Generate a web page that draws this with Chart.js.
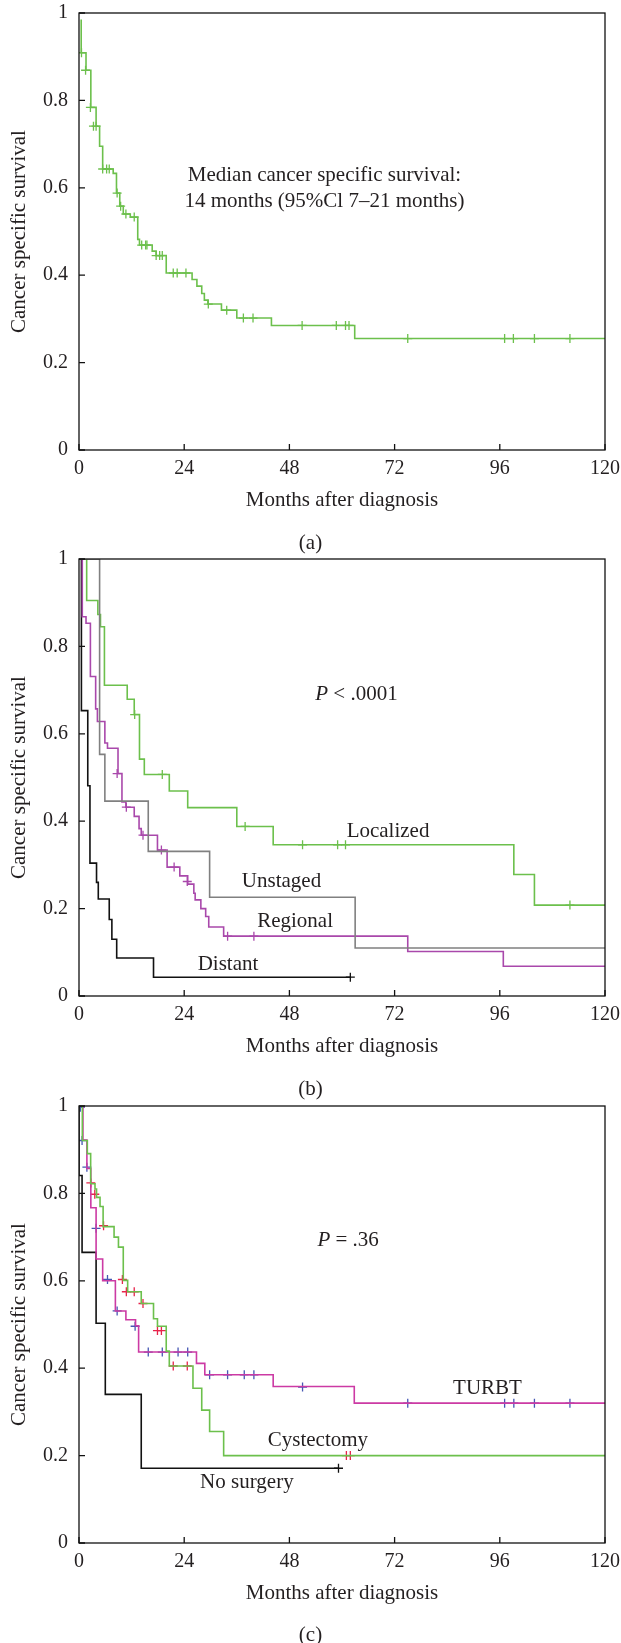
<!DOCTYPE html>
<html><head><meta charset="utf-8">
<script src="https://cdn.jsdelivr.net/npm/chart.js@4/dist/chart.umd.min.js"></script>
<style>
html,body{margin:0;padding:0;background:#fff;}
body{width:621px;height:1643px;position:relative;overflow:hidden;font-family:'Liberation Serif',serif;}
canvas{position:absolute;left:0;}
.cap{position:absolute;left:0;width:621px;text-align:center;font-size:21px;line-height:24px;color:#231f20;}
</style></head><body>
<canvas id="ca" width="621" height="547" style="top:0px"></canvas>
<canvas id="cb" width="621" height="547" style="top:546px"></canvas>
<canvas id="cc" width="621" height="547" style="top:1093px"></canvas>
<div class="cap" style="top:530px">(a)</div>
<div class="cap" style="top:1076px">(b)</div>
<div class="cap" style="top:1622px">(c)</div>
<script>
// ---------- axes ----------
const xTicks = [0, 24, 48, 72, 96, 120];
const xTickLabels = ['0', '24', '48', '72', '96', '120'];
const yTicks = [0, 0.2, 0.4, 0.6, 0.8, 1];
const yTickLabels = ['0', '0.2', '0.4', '0.6', '0.8', '1'];
const xTitle = 'Months after diagnosis';
const yTitle = 'Cancer specific survival';

// ---------- panel (a): all patients ----------
const aTime = [0.5,0.5,1.6,2.7,3.9,4.7,5.4,7.8,8.55,9.3,10.1,11.7,13.4,13.8,16.7,17.6,19.9,25.8,26.9,28.0,28.6,29.4,32.5,36.0,43.9,62.9,120];
const aSurv = [0.985,0.909,0.869,0.784,0.741,0.695,0.643,0.633,0.588,0.558,0.540,0.533,0.482,0.469,0.455,0.445,0.405,0.390,0.375,0.358,0.343,0.334,0.320,0.302,0.285,0.255,0.255];
const aCensT = [0.57,1.5,2.6,3.3,3.9,5.4,6.3,6.9,8.7,9.5,10.7,12.6,14.3,15.2,15.5,17.6,18.4,19.0,21.5,22.4,24.4,29.5,33.7,37.5,39.7,50.9,58.7,60.8,61.6,75.0,97.1,99.1,103.9,112.0];
const aCensS = [0.909,0.869,0.784,0.741,0.741,0.643,0.643,0.643,0.588,0.558,0.540,0.533,0.469,0.469,0.469,0.445,0.445,0.445,0.405,0.405,0.405,0.334,0.320,0.302,0.302,0.285,0.285,0.285,0.285,0.255,0.255,0.255,0.255,0.255];

// ---------- panel (b): by stage ----------
const bLocT = [0,1.75,4.3,4.9,5.8,11.0,12.6,13.8,14.9,20.6,24.8,36.0,44.3,99.2,103.9,120];
const bLocS = [1,0.905,0.873,0.845,0.711,0.679,0.644,0.542,0.507,0.469,0.431,0.388,0.346,0.278,0.208,0.208];
const bLocCensT = [12.7,19.0,37.9,51.0,59.0,60.8,112.0];
const bLocCensS = [0.644,0.507,0.388,0.346,0.346,0.346,0.208];
const bUnsT = [0,4.7,5.9,15.8,29.8,63.0,120];
const bUnsS = [1,0.553,0.446,0.331,0.226,0.110,0.110];
const bRegT = [0,0.75,1.6,2.6,3.8,4.2,5.9,6.5,8.9,9.8,10.7,12.6,13.7,14.2,17.9,20.1,23.0,24.8,26.2,26.5,27.8,28.9,29.6,33.0,75.0,96.8,120];
const bRegS = [1,0.868,0.853,0.731,0.657,0.628,0.579,0.567,0.509,0.444,0.432,0.411,0.383,0.368,0.334,0.295,0.275,0.256,0.235,0.22,0.2,0.182,0.158,0.137,0.102,0.068,0.068];
const bRegCensT = [8.7,10.8,14.6,18.8,21.7,24.7,33.9,39.9];
const bRegCensS = [0.509,0.432,0.368,0.334,0.295,0.262,0.137,0.137];
const bDisT = [0,0.55,2.0,2.5,4.0,4.4,6.9,7.5,8.6,17.0,61.9];
const bDisS = [1,0.653,0.481,0.304,0.26,0.222,0.175,0.13,0.087,0.043,0.043];
const bDisCensT = [61.9];
const bDisCensS = [0.043];

// ---------- panel (c): by treatment ----------
const cCysT = [0,0.76,1.9,2.66,3.65,4.0,4.8,5.5,8.0,9.0,10.1,11.1,14.2,17.0,17.9,19.9,20.6,26.0,28.0,29.8,33.0,120];
const cCysS = [1,0.921,0.891,0.822,0.81,0.791,0.770,0.724,0.700,0.677,0.601,0.575,0.548,0.513,0.496,0.439,0.405,0.354,0.304,0.255,0.200,0.200];
const cCysCensT = [2.7,3.6,5.6,9.9,10.8,12.6,14.6,17.9,18.8,21.5,24.7,61.0,61.9];
const cCysCensS = [0.824,0.798,0.726,0.603,0.575,0.575,0.548,0.486,0.486,0.405,0.405,0.2,0.2];
const cTurT = [0,0.9,1.8,2.7,3.9,5.4,8.3,10.7,12.9,13.6,26.8,28.7,44.3,62.8,120];
const cTurS = [1,0.922,0.857,0.767,0.65,0.60,0.531,0.511,0.497,0.437,0.411,0.385,0.358,0.32,0.32];
const cTurCensT = [0.3,0.7,1.8,3.9,6.5,8.7,12.8,15.8,19.0,22.6,24.8,29.8,33.9,37.7,39.9,51.0,75.0,97.1,99.2,103.9,112.0];
const cTurCensS = [0.997,0.921,0.86,0.72,0.603,0.531,0.496,0.437,0.437,0.437,0.437,0.385,0.385,0.385,0.385,0.357,0.32,0.32,0.32,0.32,0.32];
const cNoT = [0,0,0.7,3.9,6.0,14.2,59.2];
const cNoS = [1,0.841,0.665,0.503,0.34,0.171,0.171];
const cNoCensT = [59.2];
const cNoCensS = [0.171];

// ---------- helpers ----------
const FONT = "'Liberation Serif', 'Times New Roman', serif";
const TXT = '#231f20';
Chart.defaults.font.family = FONT;
Chart.defaults.color = TXT;

const pts = (t, s) => t.map((v, i) => ({x: v, y: s[i]}));
const curve = (t, s, color) => ({
  data: pts(t, s), borderColor: color, borderWidth: 1.6, stepped: true,
  pointRadius: 0, fill: false, tension: 0
});
const marks = (t, s, color) => ({
  data: pts(t, s), showLine: false, pointStyle: 'cross', pointRadius: 4.5,
  borderColor: color, borderWidth: 1.3, pointBorderColor: color, pointBorderWidth: 1.3
});

const framePlugin = {
  id: 'frame',
  afterDatasetsDraw(chart, args, opts) {
    const {ctx, chartArea: ca, scales: {x, y}} = chart;
    ctx.save();
    ctx.strokeStyle = '#111';
    ctx.lineWidth = 1.3;
    ctx.strokeRect(ca.left, ca.top, ca.right - ca.left, ca.bottom - ca.top);
    ctx.beginPath();
    xTicks.forEach(v => { const p = x.getPixelForValue(v); ctx.moveTo(p, ca.bottom); ctx.lineTo(p, ca.bottom - 6); });
    yTicks.forEach(v => { const p = y.getPixelForValue(v); ctx.moveTo(ca.left, p); ctx.lineTo(ca.left + 6, p); });
    ctx.stroke();
    // annotations
    ctx.fillStyle = TXT;
    ctx.textBaseline = 'middle';
    ctx.textAlign = 'left';
    (opts.notes || []).forEach(n => {
      const segs = n.segs;
      let w = 0;
      segs.forEach(s => { ctx.font = (s.i ? 'italic ' : '') + '21px ' + FONT; s.w = ctx.measureText(s.t).width; w += s.w; });
      let px = x.getPixelForValue(n.x) - w / 2;
      const py = y.getPixelForValue(n.y);
      segs.forEach(s => { ctx.font = (s.i ? 'italic ' : '') + '21px ' + FONT; ctx.fillText(s.t, px, py); px += s.w; });
    });
    ctx.restore();
  }
};

function makeChart(id, datasets, notes) {
  return new Chart(document.getElementById(id), {
    type: 'line',
    data: {datasets},
    plugins: [framePlugin],
    options: {
      responsive: false, animation: false, devicePixelRatio: 1,
      layout: {padding: {top: 13, right: 16, bottom: 34, left: 0}},
      plugins: {legend: {display: false}, tooltip: {enabled: false}, frame: {notes}},
      scales: {
        x: {
          type: 'linear', min: 0, max: 120,
          grid: {display: false, drawTicks: false}, border: {display: false},
          afterBuildTicks: s => { s.ticks = xTicks.map(v => ({value: v})); },
          ticks: {font: {size: 20}, padding: 7, maxRotation: 0, autoSkip: false, color: TXT,
                  callback: (v, i) => xTickLabels[i]},
          title: {display: true, text: xTitle, font: {size: 21}, padding: {top: 0, bottom: 0}, color: TXT},
          afterFit: s => { s.height = 63; s.paddingLeft = 0; s.paddingRight = 0; }
        },
        y: {
          type: 'linear', min: 0, max: 1,
          grid: {display: false, drawTicks: false}, border: {display: false},
          afterBuildTicks: s => { s.ticks = yTicks.map(v => ({value: v})); },
          ticks: {font: {size: 20}, padding: 11, color: TXT,
                  callback: (v, i) => yTickLabels[i]},
          title: {display: true, text: yTitle, font: {size: 21}, padding: {top: 7, bottom: 0}, color: TXT},
          afterFit: s => { s.width = 79; s.paddingTop = 0; s.paddingBottom = 0; }
        }
      }
    }
  });
}

const GREEN = '#6cc04c', PURPLE = '#a948ab', GRAY = '#808080', BLACK = '#111111';
const PINK = '#cc3aa4', BLUE = '#4657b4', RED = '#e8234b';

makeChart('ca', [
  curve(aTime, aSurv, GREEN),
  marks(aCensT, aCensS, GREEN)
], [
  {segs: [{t: 'Median cancer specific survival:'}], x: 56.0, y: 0.629},
  {segs: [{t: '14 months (95%Cl 7\u201321 months)'}], x: 56.0, y: 0.568}
]);

makeChart('cb', [
  curve(bUnsT, bUnsS, GRAY),
  curve(bLocT, bLocS, GREEN),
  curve(bRegT, bRegS, PURPLE),
  curve(bDisT, bDisS, BLACK),
  marks(bLocCensT, bLocCensS, GREEN),
  marks(bRegCensT, bRegCensS, PURPLE),
  marks(bDisCensT, bDisCensS, BLACK)
], [
  {segs: [{t: 'P', i: true}, {t: ' < .0001'}], x: 63.3, y: 0.691},
  {segs: [{t: 'Localized'}], x: 70.5, y: 0.377},
  {segs: [{t: 'Unstaged'}], x: 46.2, y: 0.262},
  {segs: [{t: 'Regional'}], x: 49.3, y: 0.170},
  {segs: [{t: 'Distant'}], x: 34.0, y: 0.072}
]);

makeChart('cc', [
  curve(cCysT, cCysS, GREEN),
  curve(cTurT, cTurS, PINK),
  curve(cNoT, cNoS, BLACK),
  marks(cCysCensT, cCysCensS, RED),
  marks(cTurCensT, cTurCensS, BLUE),
  marks(cNoCensT, cNoCensS, BLACK)
], [
  {segs: [{t: 'P', i: true}, {t: ' = .36'}], x: 61.4, y: 0.692},
  {segs: [{t: 'TURBT'}], x: 93.2, y: 0.354},
  {segs: [{t: 'Cystectomy'}], x: 54.5, y: 0.235},
  {segs: [{t: 'No surgery'}], x: 38.3, y: 0.139}
]);
</script>
</body></html>
